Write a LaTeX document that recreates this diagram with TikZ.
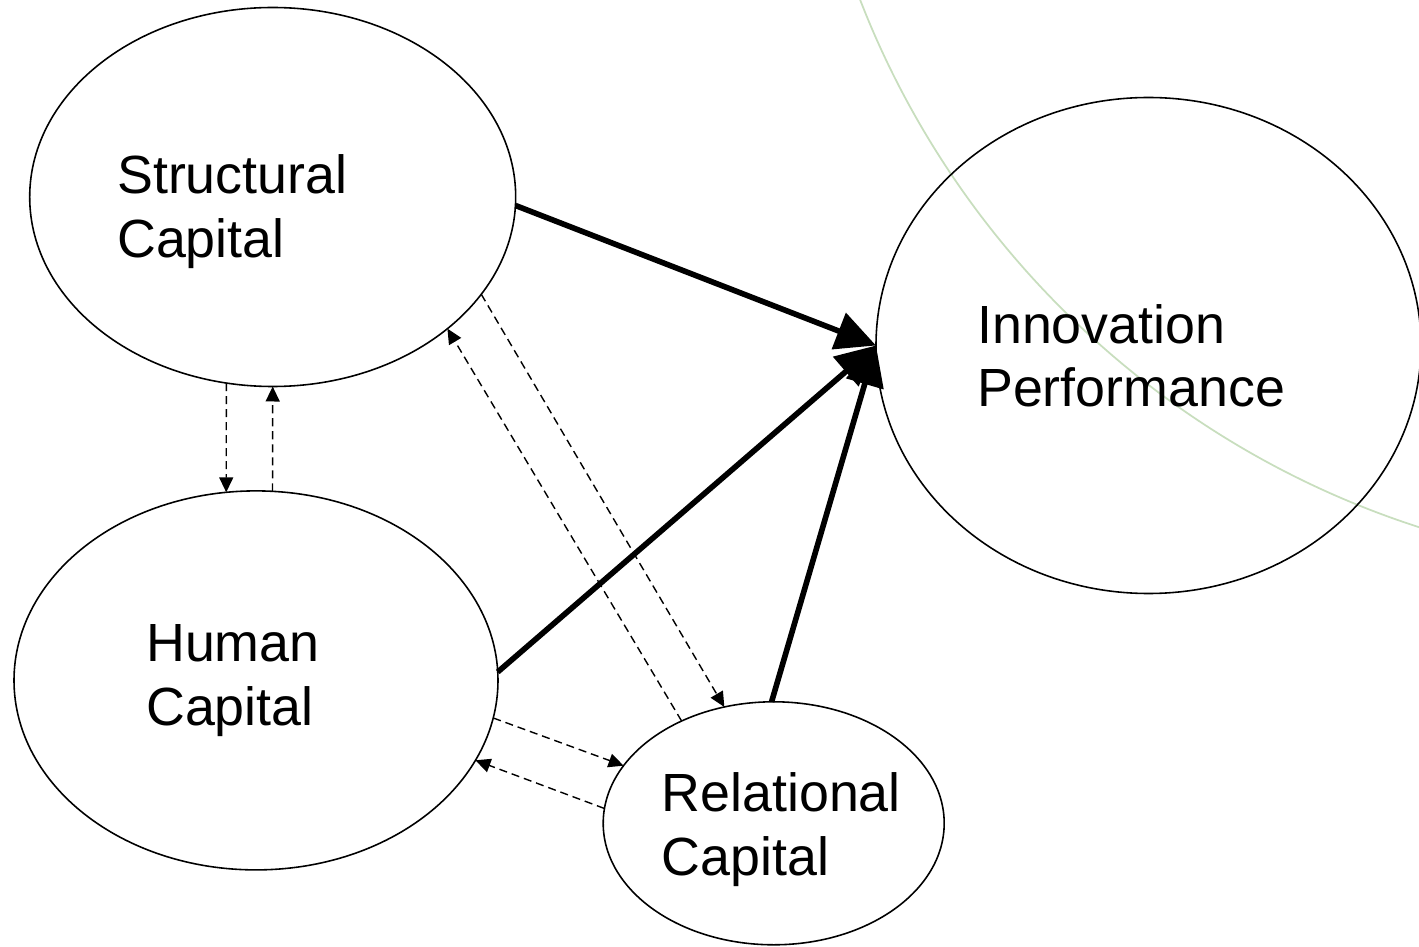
\documentclass[tikz,border=0pt]{standalone}
\usepackage{fontspec}
\setmainfont{Liberation Sans}
\usetikzlibrary{shapes.geometric,arrows.meta}
\definecolor{arcgreen}{RGB}{200,222,190}

\begin{document}
\begin{tikzpicture}[font=\fontsize{15.3}{18.2}\selectfont,
  ell/.style={draw, ellipse, line width=0.45pt, inner sep=0pt, outer sep=0pt},
  txt/.style={align=left, inner sep=0pt, anchor=base west},
  effect/.style={line width=1.6pt, -{Triangle[length=4mm,width=3.8mm]}},
  mutual/.style={line width=0.4pt, dash pattern=on 2.3pt off 1.4pt, -{Triangle[length=1.5mm,width=1.4mm]}}]
  \useasboundingbox (0,0) rectangle (14.19,9.46);

  % Background arc
  \begin{scope}
    \clip (0,0) rectangle (14.19,9.46);
    \draw[arcgreen, line width=0.5pt] (16.93,12.69) circle (8.93);
  \end{scope}

  % Nodes
  \node[ell, minimum width=4.86cm, minimum height=3.79cm] (SC) at (2.727,7.49) {};
  \node[ell, minimum width=4.84cm, minimum height=3.79cm] (HC) at (2.56,2.656) {};
  \node[ell, minimum width=3.41cm, minimum height=2.43cm] (RC) at (7.737,1.227) {};
  \node[ell, minimum width=5.45cm, minimum height=4.96cm] (IP) at (11.485,6.005) {};

  % Labels (base is the last line)
  \node[txt] (SCt) at (1.165,6.888) {Structural\\Capital};
  \node[txt] (HCt) at (1.455,2.201) {Human\\Capital};
  \node[txt] (RCt) at (6.61,0.701) {Relational\\Capital};
  \node[txt] (IPt) at (9.765,5.39) {Innovation\\Performance};

  % Arrows
  \draw[effect] (SC.-2) -- (IP.west);
  \draw[effect] (HC.2) -- (IP.west);
  \draw[effect] (RC.91) -- (IP.west);

  \draw[mutual] (SC.256) -- (HC.99);
  \draw[mutual] (HC.85) -- (SC.south);
  \draw[mutual] (SC.-25) -- (RC.113);
  \draw[mutual] (RC.132) -- (SC.-37);
  \draw[mutual] (HC.-9) -- (RC.159);
  \draw[mutual] (RC.175) -- (HC.-20);
\end{tikzpicture}
\end{document}
